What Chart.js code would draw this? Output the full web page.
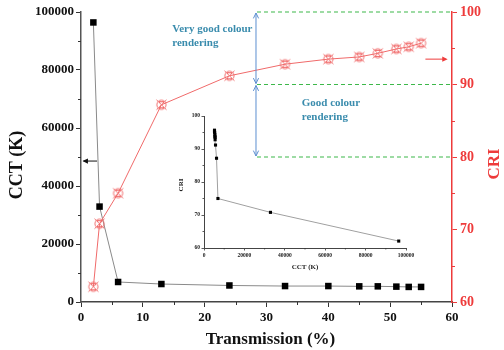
<!DOCTYPE html>
<html><head><meta charset="utf-8">
<script src="https://cdn.jsdelivr.net/npm/chart.js@4/dist/chart.umd.min.js"></script>
<style>
html,body{margin:0;padding:0;background:#fff;}
#wrap{position:relative;width:504px;height:350px;overflow:hidden;}
#main{position:absolute;left:0;top:0;}
#inset{position:absolute;left:170px;top:108px;}
</style>
</head><body>
<div id="wrap"><canvas id="main" width="504" height="350"></canvas><canvas id="inset" width="250" height="165"></canvas></div>
<script>
// ---- data ----
const transmission = [2, 3, 6, 13, 24, 33, 40, 45, 48, 51, 53, 55];
const cct = [96400, 32900, 6900, 6200, 5700, 5500, 5500, 5400, 5400, 5300, 5200, 5200];
const cri = [62.1, 70.8, 75.0, 87.2, 91.2, 92.8, 93.5, 93.8, 94.3, 94.9, 95.2, 95.7];
const criBands = [100, 90, 80];
const bandLabels = [["Very good colour", "rendering"], ["Good colour", "rendering"]];
const axisTitles = {x: "Transmission (%)", y: "CCT (K)", y2: "CRI", insetX: "CCT (K)", insetY: "CRI"};

const SERIF = "'Liberation Serif', 'Times New Roman', serif";
const RED = '#ee3b3b';
const LINE_RED = '#f06a6a';
const GREEN = '#3db84a';
const BLUE = '#5c8fd0';
const TEAL = '#3a8cad';
const plain = v => String(v);

// CRI marker: X inside a circle
const mk = document.createElement('canvas');
mk.width = 13; mk.height = 13;
(function(){
  const c = mk.getContext('2d');
  c.strokeStyle = LINE_RED; c.lineWidth = 1;
  c.beginPath(); c.arc(6.5, 6.5, 4.6, 0, Math.PI*2); c.stroke();
  c.beginPath(); c.moveTo(1.5,1.5); c.lineTo(11.5,11.5); c.moveTo(11.5,1.5); c.lineTo(1.5,11.5); c.stroke();
  c.beginPath(); c.moveTo(3.5,3.5); c.lineTo(9.5,3.5); c.moveTo(3.5,9.5); c.lineTo(9.5,9.5); c.stroke();
})();

function arrowHead(ctx, x, y, dir, size, filled) {
  const a1 = dir + Math.PI - 0.45, a2 = dir + Math.PI + 0.45;
  ctx.beginPath();
  ctx.moveTo(x + size*Math.cos(a1), y + size*Math.sin(a1));
  ctx.lineTo(x, y);
  ctx.lineTo(x + size*Math.cos(a2), y + size*Math.sin(a2));
  if (filled) { ctx.closePath(); ctx.fill(); } else ctx.stroke();
}

const mainDecor = {
  id: 'mainDecor',
  afterDraw(chart) {
    const ctx = chart.ctx, x = chart.scales.x, y = chart.scales.y, y2 = chart.scales.y2;
    const ca = chart.chartArea;
    ctx.save();
    // minor ticks
    ctx.lineWidth = 1;
    ctx.strokeStyle = '#333';
    for (let v = 5; v < 60; v += 10) { const p = Math.round(x.getPixelForValue(v)) + 0.5; ctx.beginPath(); ctx.moveTo(p, ca.bottom); ctx.lineTo(p, ca.bottom + 3); ctx.stroke(); }
    for (let v = 10000; v < 100000; v += 20000) { const p = Math.round(y.getPixelForValue(v)) + 0.5; ctx.beginPath(); ctx.moveTo(ca.left - 3, p); ctx.lineTo(ca.left, p); ctx.stroke(); }
    ctx.strokeStyle = RED;
    for (let v = 65; v < 100; v += 10) { const p = Math.round(y2.getPixelForValue(v)) + 0.5; ctx.beginPath(); ctx.moveTo(ca.right, p); ctx.lineTo(ca.right + 3, p); ctx.stroke(); }

    // green dashed band lines
    const bx = x.getPixelForValue(28.3);
    ctx.strokeStyle = GREEN; ctx.lineWidth = 1.2; ctx.setLineDash([4, 3]);
    criBands.forEach(v => { const p = y2.getPixelForValue(v); ctx.beginPath(); ctx.moveTo(bx + 1, p); ctx.lineTo(ca.right, p); ctx.stroke(); });
    ctx.setLineDash([]);

    // blue double arrows
    ctx.strokeStyle = BLUE; ctx.lineWidth = 1;
    for (let i = 0; i < criBands.length - 1; i++) {
      const p1 = y2.getPixelForValue(criBands[i]) + 1, p2 = y2.getPixelForValue(criBands[i+1]) - 1;
      ctx.beginPath(); ctx.moveTo(bx, p1); ctx.lineTo(bx, p2); ctx.stroke();
      arrowHead(ctx, bx, p1, -Math.PI/2, 6, false);
      arrowHead(ctx, bx, p2, Math.PI/2, 6, false);
    }

    // band texts
    ctx.fillStyle = TEAL; ctx.font = "bold 11px " + SERIF; ctx.textBaseline = 'middle'; ctx.textAlign = 'left';
    const t1x = x.getPixelForValue(14.75), t1y = y2.getPixelForValue(97.6);
    ctx.fillText(bandLabels[0][0], t1x, t1y); ctx.fillText(bandLabels[0][1], t1x, t1y + 13.5);
    const t2x = x.getPixelForValue(35.7), t2y = y2.getPixelForValue(87.4);
    ctx.fillText(bandLabels[1][0], t2x, t2y); ctx.fillText(bandLabels[1][1], t2x, t2y + 13.5);

    // black arrow to left axis
    ctx.strokeStyle = '#111'; ctx.fillStyle = '#111'; ctx.lineWidth = 1;
    const ay = y.getPixelForValue(48600);
    ctx.beginPath(); ctx.moveTo(x.getPixelForValue(2.6), ay); ctx.lineTo(x.getPixelForValue(0.4), ay); ctx.stroke();
    arrowHead(ctx, x.getPixelForValue(0.25), ay, Math.PI, 6, true);
    // red arrow to right axis
    ctx.strokeStyle = RED; ctx.fillStyle = RED;
    const ry = y2.getPixelForValue(93.5);
    ctx.beginPath(); ctx.moveTo(x.getPixelForValue(55.7), ry); ctx.lineTo(x.getPixelForValue(59.0), ry); ctx.stroke();
    arrowHead(ctx, x.getPixelForValue(59.3), ry, 0, 6, true);

    // axis titles
    ctx.textAlign = 'center'; ctx.textBaseline = 'middle';
    ctx.fillStyle = '#111'; ctx.font = "bold 18px " + SERIF;
    ctx.save(); ctx.translate(17, 165); ctx.rotate(-Math.PI/2); ctx.fillText(axisTitles.y, 0, 0); ctx.restore();
    ctx.font = "bold 17px " + SERIF;
    ctx.fillText(axisTitles.x, (ca.left + ca.right)/2 + 4, 340);
    ctx.fillStyle = RED; ctx.font = "bold 17px " + SERIF;
    ctx.save(); ctx.translate(495, 164); ctx.rotate(-Math.PI/2); ctx.fillText(axisTitles.y2, 0, 0); ctx.restore();
    ctx.restore();
  }
};

new Chart(document.getElementById('main'), {
  type: 'line',
  data: {
    datasets: [
      {
        label: 'CRI', yAxisID: 'y2',
        data: transmission.map((t, i) => ({x: t, y: cri[i]})),
        borderColor: LINE_RED, borderWidth: 1, pointStyle: mk, pointRadius: 6, pointHoverRadius: 6,
        backgroundColor: LINE_RED, tension: 0, order: 1
      },
      {
        label: 'CCT', yAxisID: 'y',
        data: transmission.map((t, i) => ({x: t, y: cct[i]})),
        borderColor: '#8a8a8a', borderWidth: 1, pointStyle: 'rect', pointRadius: 4.6, pointHoverRadius: 4.6,
        pointBackgroundColor: '#000', pointBorderColor: '#000', pointBorderWidth: 0, tension: 0, order: 2
      }
    ]
  },
  options: {
    responsive: false, animation: false, devicePixelRatio: 1,
    layout: {padding: {left: 0, right: 0, top: 12, bottom: 0}},
    plugins: {legend: {display: false}, tooltip: {enabled: false}},
    scales: {
      x: {
        type: 'linear', position: 'bottom', min: 0, max: 60,
        ticks: {stepSize: 10, callback: plain, color: '#111', font: {family: SERIF, size: 13, weight: 'bold'}, padding: 3, maxRotation: 0},
        grid: {display: true, drawOnChartArea: false, tickLength: 5, color: '#333', tickWidth: 1},
        border: {display: true, color: '#444', width: 1.5},
        afterFit(s) { s.height = 48; }
      },
      y: {
        type: 'linear', position: 'left', min: 0, max: 100000,
        ticks: {stepSize: 20000, callback: plain, color: '#111', font: {family: SERIF, size: 13, weight: 'bold'}, padding: 2},
        grid: {display: true, drawOnChartArea: false, tickLength: 5, color: '#333', tickWidth: 1},
        border: {display: true, color: '#555', width: 1.5},
        afterFit(s) { s.width = 81; }
      },
      y2: {
        type: 'linear', position: 'right', min: 60, max: 100,
        ticks: {stepSize: 10, callback: plain, color: RED, font: {family: SERIF, size: 14, weight: 'bold'}, padding: 3},
        grid: {display: true, drawOnChartArea: false, tickLength: 5, color: RED, tickWidth: 1},
        border: {display: true, color: RED, width: 1.5},
        afterFit(s) { s.width = 52; }
      }
    }
  },
  plugins: [mainDecor]
});

// ---- inset: CRI vs CCT ----
const insetDecor = {
  id: 'insetDecor',
  afterDraw(chart) {
    const ctx = chart.ctx, x = chart.scales.x, y = chart.scales.y, ca = chart.chartArea;
    ctx.save();
    ctx.strokeStyle = '#333'; ctx.lineWidth = 0.8;
    for (let v = 10000; v < 100000; v += 20000) { const p = x.getPixelForValue(v); ctx.beginPath(); ctx.moveTo(p, ca.bottom); ctx.lineTo(p, ca.bottom + 1.5); ctx.stroke(); }
    for (let v = 65; v < 100; v += 10) { const p = y.getPixelForValue(v); ctx.beginPath(); ctx.moveTo(ca.left - 1.5, p); ctx.lineTo(ca.left, p); ctx.stroke(); }
    ctx.fillStyle = '#222'; ctx.textAlign = 'center'; ctx.textBaseline = 'middle';
    ctx.font = "bold 7px " + SERIF;
    ctx.fillText(axisTitles.insetX, (ca.left + ca.right)/2, 159);
    ctx.save(); ctx.translate(11, (ca.top + ca.bottom)/2 + 3); ctx.rotate(-Math.PI/2); ctx.fillText(axisTitles.insetY, 0, 0); ctx.restore();
    ctx.restore();
  }
};

new Chart(document.getElementById('inset'), {
  type: 'line',
  data: {
    datasets: [{
      data: cct.map((c, i) => ({x: c, y: cri[i]})),
      borderColor: '#a0a0a0', borderWidth: 1, pointStyle: 'rect', pointRadius: 2.2, pointHoverRadius: 2.2,
      pointBackgroundColor: '#000', pointBorderColor: '#000', pointBorderWidth: 0, tension: 0
    }]
  },
  options: {
    responsive: false, animation: false, devicePixelRatio: 1,
    layout: {padding: {left: 0, right: 14, top: 8, bottom: 0}},
    plugins: {legend: {display: false}, tooltip: {enabled: false}},
    scales: {
      x: {
        type: 'linear', min: 0, max: 100000,
        ticks: {stepSize: 20000, callback: plain, color: '#222', font: {family: SERIF, size: 5.5, weight: 'bold'}, padding: 2, maxRotation: 0, autoSkip: false},
        grid: {display: true, drawOnChartArea: false, tickLength: 2.5, color: '#333', tickWidth: 0.8},
        border: {display: true, color: '#444', width: 1},
        afterFit(s) { s.height = 25; }
      },
      y: {
        type: 'linear', min: 60, max: 100,
        ticks: {stepSize: 10, callback: plain, color: '#222', font: {family: SERIF, size: 5.5, weight: 'bold'}, padding: 1.5},
        grid: {display: true, drawOnChartArea: false, tickLength: 2.5, color: '#333', tickWidth: 0.8},
        border: {display: true, color: '#444', width: 1},
        afterFit(s) { s.width = 34; }
      }
    }
  },
  plugins: [insetDecor]
});
</script>
</body></html>
